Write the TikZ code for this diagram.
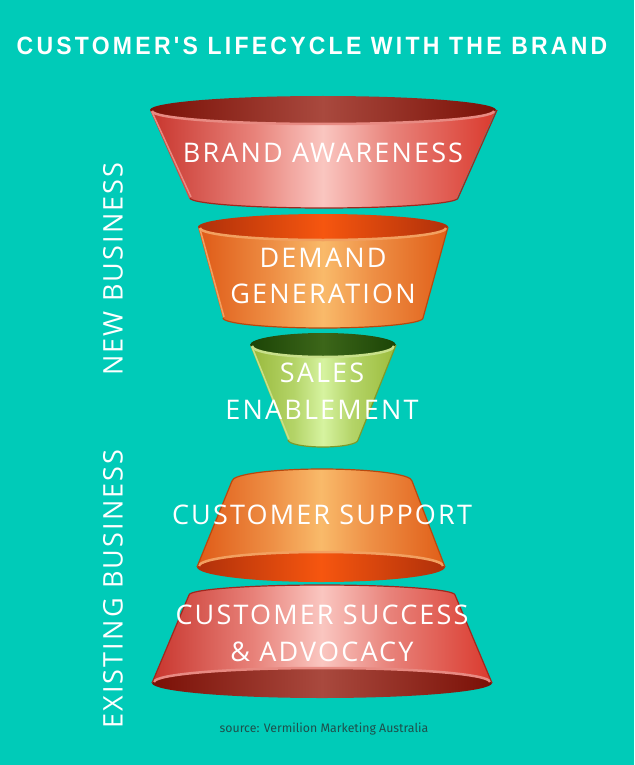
\documentclass[tikz,border=0pt]{standalone}
\usepackage{fontspec}
\setmainfont{Open Sans}
\newfontfamily\titlefont{Liberation Sans}[FakeStretch=0.92,LetterSpace=13]
\newfontfamily\labelfont{Open Sans}[LetterSpace=8]
\newfontfamily\srcfont{Fira Sans}
\definecolor{bg}{HTML}{00CBB8}
\definecolor{srccol}{HTML}{1E4F4B}
% red
\definecolor{rL}{HTML}{C8352D}
\definecolor{rA}{HTML}{E8827A}
\definecolor{rM}{HTML}{FAC6C0}
\definecolor{rR}{HTML}{DA3A2E}
\definecolor{riE}{HTML}{7A1006}
\definecolor{riM}{HTML}{A9493E}
\definecolor{rRim}{HTML}{E88A82}
\definecolor{rDark}{HTML}{A0281E}
% orange
\definecolor{oL}{HTML}{DF5A17}
\definecolor{oA}{HTML}{EE8F45}
\definecolor{oM}{HTML}{F9BA6A}
\definecolor{oR}{HTML}{E05E18}
\definecolor{oiE}{HTML}{B0300A}
\definecolor{oiM}{HTML}{F6560F}
\definecolor{oRim}{HTML}{F2A060}
\definecolor{oDark}{HTML}{B8480E}
% green
\definecolor{gL}{HTML}{98B83A}
\definecolor{gA}{HTML}{B4D468}
\definecolor{gM}{HTML}{D6F3A0}
\definecolor{gR}{HTML}{9CBC3C}
\definecolor{giE}{HTML}{1C4406}
\definecolor{giM}{HTML}{3C6619}
\definecolor{gRim}{HTML}{C8E08A}
\definecolor{gDark}{HTML}{7E9A2A}
\pgfdeclarehorizontalshading{redband}{100bp}{color(0bp)=(rL); color(25bp)=(rL); color(40bp)=(rA); color(50bp)=(rM); color(60bp)=(rA); color(75bp)=(rR); color(100bp)=(rR)}
\pgfdeclarehorizontalshading{redin}{100bp}{color(0bp)=(riE); color(25bp)=(riE); color(50bp)=(riM); color(75bp)=(riE); color(100bp)=(riE)}
\pgfdeclarehorizontalshading{orband}{100bp}{color(0bp)=(oL); color(25bp)=(oL); color(40bp)=(oA); color(50bp)=(oM); color(60bp)=(oA); color(75bp)=(oR); color(100bp)=(oR)}
\pgfdeclarehorizontalshading{orin}{100bp}{color(0bp)=(oiE); color(25bp)=(oiE); color(50bp)=(oiM); color(75bp)=(oiE); color(100bp)=(oiE)}
\pgfdeclarehorizontalshading{grband}{100bp}{color(0bp)=(gL); color(25bp)=(gL); color(40bp)=(gA); color(50bp)=(gM); color(60bp)=(gA); color(75bp)=(gR); color(100bp)=(gR)}
\pgfdeclarehorizontalshading{grin}{100bp}{color(0bp)=(giE); color(25bp)=(giE); color(50bp)=(giM); color(75bp)=(giE); color(100bp)=(giE)}
\begin{document}
\begin{tikzpicture}[x=1pt,y=-1pt,
  lbl/.style={text=white,font=\labelfont\fontsize{27}{30}\selectfont,inner sep=0pt},
  side/.style={text=white,font=\labelfont\fontsize{27}{30}\selectfont,inner sep=0pt,rotate=90},
  rimlight/.style={line width=2.5pt},
  rimdark/.style={line width=1.2pt}]
\useasboundingbox (0,0) rectangle (634,765);
\fill[bg] (0,0) rectangle (634,765);

% title
\node[text=white,font=\titlefont\bfseries\fontsize{25}{28}\selectfont,inner sep=0pt] (title) at (312,45.5) {CUSTOMER'S LIFECYCLE WITH THE BRAND};

% ---------- segment 1: red (wide top)
\shade[shading=redin] (323,110) ellipse [x radius=173pt, y radius=14pt];
\shade[shading=redband] (150,110) arc[start angle=180,end angle=360,x radius=173pt,y radius=14pt]
  -- (457,198) arc[start angle=0,end angle=-180,x radius=134pt,y radius=10pt] -- cycle;
\draw[rRim,rimlight] (152,111) arc[start angle=180,end angle=360,x radius=171pt,y radius=13pt];
\draw[rDark,rimdark] (190,198) arc[start angle=180,end angle=360,x radius=134pt,y radius=10pt] -- (497,110);
\draw[rRim,line width=1.5pt] (152,112) -- (191,197);

% ---------- segment 2: orange (wide top)
\shade[shading=orin] (323,227) ellipse [x radius=125pt, y radius=13pt];
\shade[shading=orband] (198,227) arc[start angle=180,end angle=360,x radius=125pt,y radius=13pt]
  -- (423,318) arc[start angle=0,end angle=-180,x radius=100pt,y radius=10pt] -- cycle;
\draw[oRim,rimlight] (200,228) arc[start angle=180,end angle=360,x radius=123pt,y radius=12pt];
\draw[oDark,rimdark] (223,318) arc[start angle=180,end angle=360,x radius=100pt,y radius=10pt] -- (448,227);
\draw[oRim,line width=1.5pt] (200,229) -- (224,317);

% ---------- segment 3: green (wide top)
\shade[shading=grin] (323,345) ellipse [x radius=73pt, y radius=12pt];
\shade[shading=grband] (250,345) arc[start angle=180,end angle=360,x radius=73pt,y radius=12pt]
  -- (358,440) arc[start angle=0,end angle=-180,x radius=35pt,y radius=7pt] -- cycle;
\draw[gRim,rimlight] (252,346) arc[start angle=180,end angle=360,x radius=71pt,y radius=11pt];
\draw[gDark,rimdark] (288,440) arc[start angle=180,end angle=360,x radius=35pt,y radius=7pt] -- (396,345);
\draw[gRim,line width=1.5pt] (252,347) -- (289,439);

% ---------- segment 4: orange (wide bottom)
\shade[shading=orin] (321,567) ellipse [x radius=124pt, y radius=15pt];
\shade[shading=orband] (232,481) arc[start angle=180,end angle=0,x radius=90pt,y radius=12pt]
  -- (445,567) arc[start angle=0,end angle=180,x radius=124pt,y radius=15pt] -- cycle;
\draw[oRim,rimlight] (199,566) arc[start angle=180,end angle=0,x radius=122pt,y radius=14pt];
\draw[oDark,rimdark] (232,481) arc[start angle=180,end angle=0,x radius=90pt,y radius=12pt] -- (445,567);
\draw[oDark,rimdark] (232,481) -- (197,567);

% ---------- segment 5: red (wide bottom)
\shade[shading=redin] (322,683) ellipse [x radius=170pt, y radius=15pt];
\shade[shading=redband] (189,595) arc[start angle=180,end angle=0,x radius=133pt,y radius=10pt]
  -- (492,683) arc[start angle=0,end angle=180,x radius=170pt,y radius=15pt] -- cycle;
\draw[rRim,rimlight] (154,682) arc[start angle=180,end angle=0,x radius=168pt,y radius=14pt];
\draw[rDark,rimdark] (189,595) arc[start angle=180,end angle=0,x radius=133pt,y radius=10pt] -- (492,683);
\draw[rDark,rimdark] (189,595) -- (152,683);

% ---------- labels
\node[lbl] (aw) at (323,153) {BRAND AWARENESS};
\node[lbl] (dm) at (323,258) {DEMAND};
\node[lbl] (gn) at (323,294) {GENERATION};
\node[lbl] (sl) at (322,373) {SALES};
\node[lbl] (en) at (322,410) {ENABLEMENT};
\node[lbl] (cs) at (322,515) {CUSTOMER SUPPORT};
\node[lbl] (cu) at (322,615) {CUSTOMER SUCCESS};
\node[lbl] (ad) at (322,652) {\&{} ADVOCACY};

\node[side] (nb) at (113,269) {NEW BUSINESS};
\node[side] (eb) at (113,589) {EXISTING BUSINESS};

\node[text=srccol,font=\srcfont\fontsize{12.3}{14}\selectfont,inner sep=0pt] (src) at (324,729) {source: Vermilion Marketing Australia};
\end{tikzpicture}
\end{document}
